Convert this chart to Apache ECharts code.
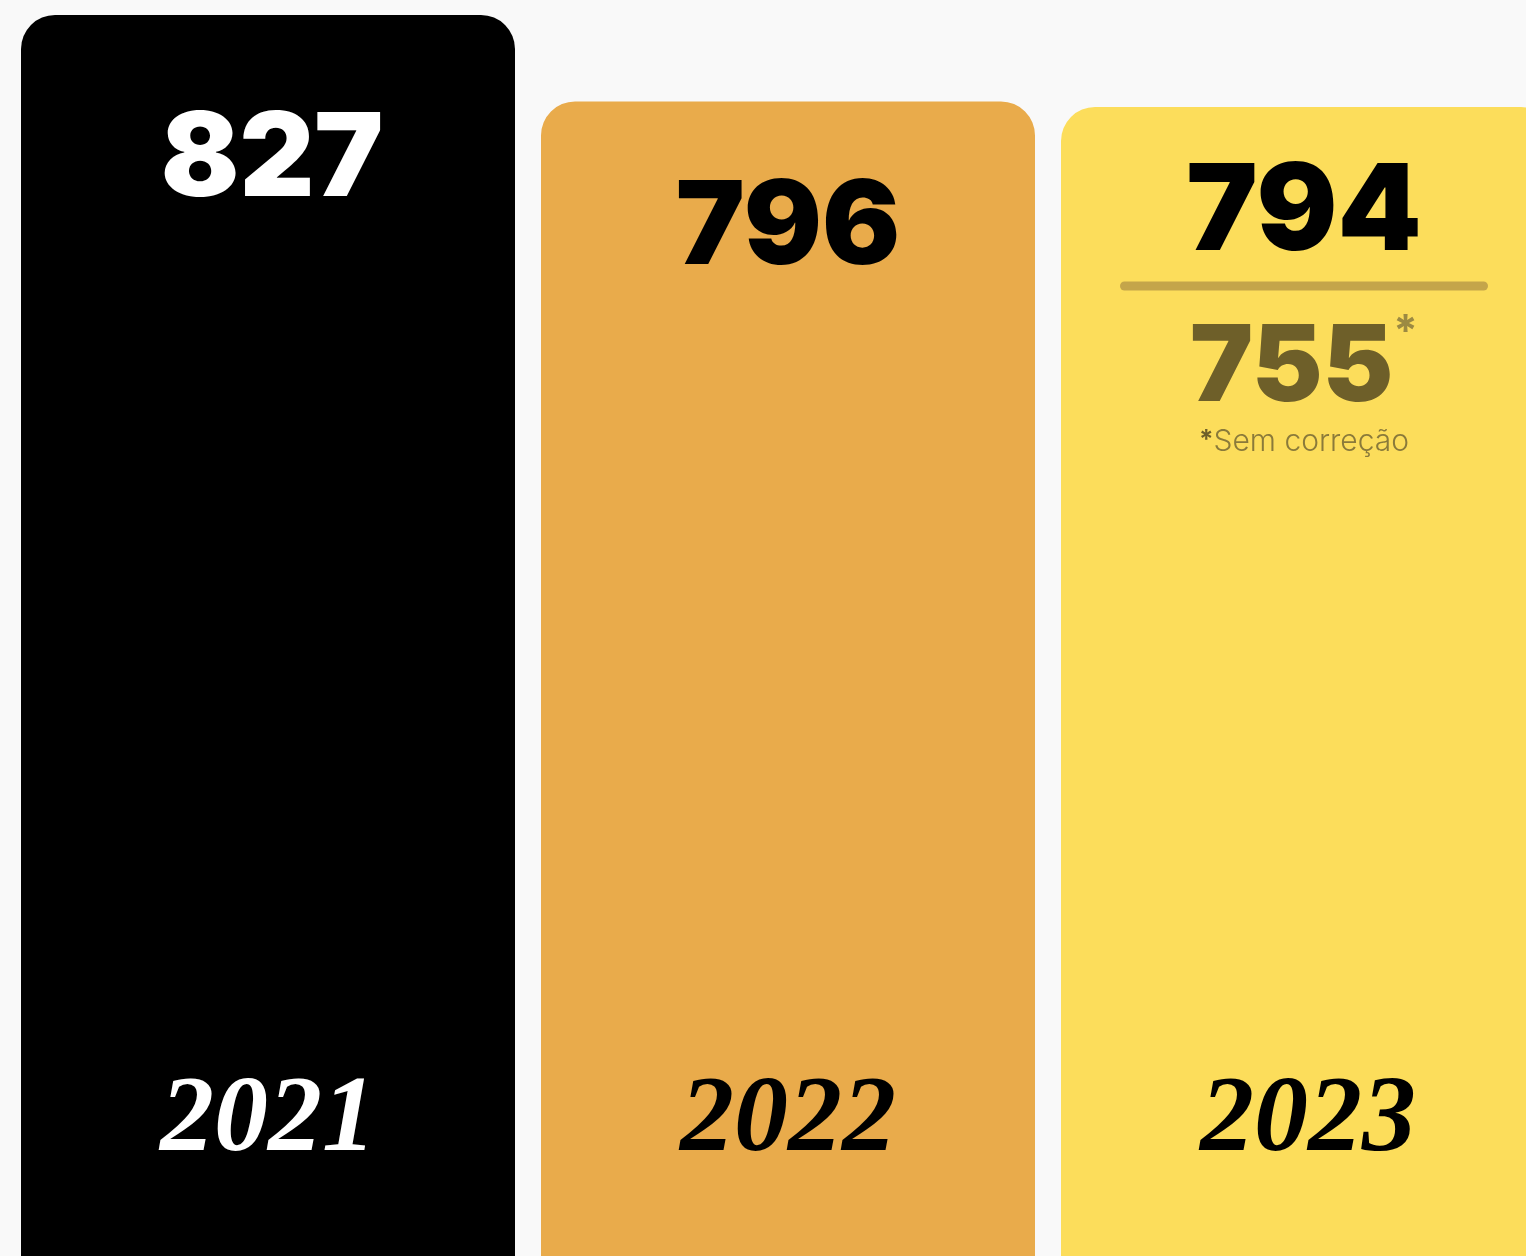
<!DOCTYPE html>
<html>
<head>
<meta charset="utf-8">
<script src="https://cdn.jsdelivr.net/npm/echarts@6/dist/echarts.min.js"></script>
<style>
  html, body { margin: 0; padding: 0; background: #f9f9f9; }
  #chart { width: 1526px; height: 1256px; }
</style>
</head>
<body>
<div id="chart"></div>
<script>
var years = ["2021", "2022", "2023"];
var values = [827, 796, 794];
var uncorrected = 755; // 2023 sem correção
var barColors = ["#000000", "#e9ab4b", "#fcdd5b"];
var labelColors = ["#ffffff", "#000000", "#000000"];

var chart = echarts.init(document.getElementById("chart"));

var numFont = "Inter";
var yearFont = "Liberation Serif";

var seriesData = values.map(function(v, i) {
  var item = {
    value: v,
    itemStyle: { color: barColors[i] },
    label: {
      show: true,
      position: "insideTop",
      color: labelColors[i],
      fontFamily: numFont,
      fontWeight: 900,
      fontSize: 116,
      lineHeight: 116
    }
  };
  if (i == 0) {
    item.label.distance = 88;
    item.label.offset = [4, 0];
  }
  if (i == 1) item.label.distance = 70;
  if (i == 2) {
    item.label.distance = 48;
    item.label.offset = [-4, 0];
    item.label.formatter = function(p) {
      return "{v|" + p.value + "}\n{sep|}\n{gap|}\n{c|" + uncorrected + "}{ast|*}\n{na|*}{note|Sem correção}";
    };
    item.label.rich = {
      v: { fontFamily: numFont, fontWeight: 900, fontSize: 120, lineHeight: 118, color: "#000" },
      sep: { width: 368, height: 9, lineHeight: 26, backgroundColor: "#c4a54a", borderRadius: 5 },
      gap: { lineHeight: 12 },
      c: { fontFamily: numFont, fontWeight: 900, fontSize: 106, lineHeight: 112, color: "#6e5f29" },
      ast: { fontFamily: numFont, fontWeight: 700, fontSize: 44, lineHeight: 116, verticalAlign: "top", color: "#9c8a42" },
      na: { fontFamily: numFont, fontWeight: 700, fontSize: 26, lineHeight: 30, verticalAlign: "top", color: "#6e5f29" },
      note: { fontFamily: numFont, fontWeight: 300, fontSize: 30, lineHeight: 30, color: "#8a7a3a" }
    };
  }
  return item;
});

var option = {
  backgroundColor: "#f9f9f9",
  animation: false,
  grid: { left: 8, top: 15, width: 1560, bottom: 0, outerBoundsMode: "none", containLabel: false },
  xAxis: {
    type: "category",
    data: years,
    z: 10,
    axisLine: { show: false },
    axisTick: { show: false },
    axisLabel: {
      inside: true,
      margin: 80,
      fontFamily: yearFont,
      fontStyle: "italic",
      fontWeight: "bold",
      fontSize: 108,
      lineHeight: 108,
      color: function(val, idx) {
        return labelColors[idx];
      }
    }
  },
  yAxis: {
    type: "value",
    min: 382,
    max: 827,
    show: false,
    splitLine: { show: false }
  },
  series: [
    {
      type: "bar",
      barWidth: 494,
      data: seriesData,
      itemStyle: { borderRadius: [34, 34, 0, 0] }
    }
  ]
};

chart.setOption(option);
</script>
</body>
</html>
